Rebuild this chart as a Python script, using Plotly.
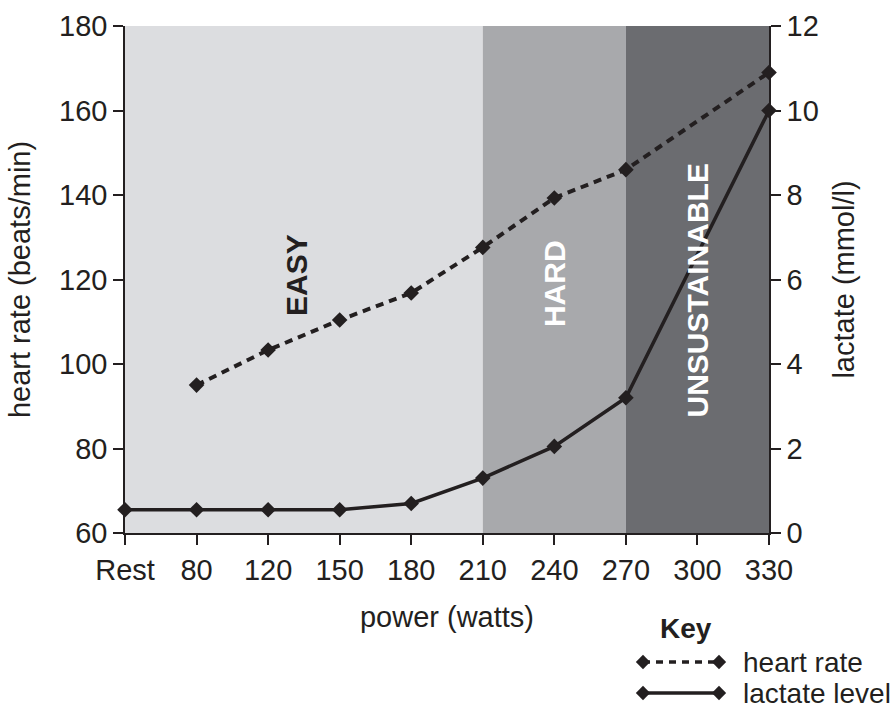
import plotly.graph_objects as go

# ---- data ----
categories = ["Rest", "80", "120", "150", "180", "210", "240", "270", "300", "330"]
heart_rate = [None, 95.0, 103.3, 110.4, 116.8, 127.6, 139.3, 146.0, None, 169.0]
lactate = [0.55, 0.55, 0.55, 0.55, 0.7, 1.3, 2.05, 3.2, None, 10.0]

zone_names = ["EASY", "HARD", "UNSUSTAINABLE"]
zone_starts = ["Rest", "210", "270"]
zone_ends = ["210", "270", "330"]
zone_colors = ["#dcdde0", "#a8a9ac", "#6b6c70"]
zone_text_colors = ["#231f20", "#ffffff", "#ffffff"]
zone_label_x = [2.4, 6.0, 8.0]      # label centre (category index)
zone_label_y = [121.0, 119.0, 117.5]  # label centre (heart-rate units)

key_labels = ["heart rate", "lactate level"]

hr_ticks = [60, 80, 100, 120, 140, 160, 180]
lac_ticks = [0, 2, 4, 6, 8, 10, 12]

INK = "#231f20"
FONT = "Liberation Sans, Arial, Helvetica, sans-serif"
FS = 29

OFF = 0  # body margin removed via post_script
W, H = 896, 709
ML = 125 - OFF
MT = 26 - OFF
MR = W - (769 - OFF)
MB = 2
plot_w = W - ML - MR
plot_h = H - MT - MB
main_dom_bottom = (H - MB - (533 - OFF)) / plot_h


def py(page_px):  # paper y from page pixel y (clamped, for domains)
    return min(1.0, max(0.0, (H - MB - (page_px - OFF)) / plot_h))


def pyu(page_px):  # unclamped, for annotations
    return (H - MB - (page_px - OFF)) / plot_h


def pxx(page_px):  # paper x from page pixel x
    return ((page_px - OFF) - ML) / plot_w


fig = go.Figure()

fig.add_trace(go.Scatter(
    x=categories, y=heart_rate, name=key_labels[0], mode="lines+markers",
    connectgaps=True, line=dict(color=INK, width=4, dash="8px,6px"),
    marker=dict(symbol="diamond", size=12, color=INK), cliponaxis=False,
    showlegend=False, yaxis="y"))

fig.add_trace(go.Scatter(
    x=categories, y=lactate, name=key_labels[1], mode="lines+markers",
    connectgaps=True, line=dict(color=INK, width=3.5),
    marker=dict(symbol="diamond", size=12, color=INK), cliponaxis=False,
    showlegend=False, yaxis="y2"))

# key samples on a small hidden axis
fig.add_trace(go.Scatter(
    x=[0, 1], y=[2, 2], mode="lines+markers", xaxis="x3", yaxis="y3",
    line=dict(color=INK, width=3.5, dash="7px,6px"),
    marker=dict(symbol="diamond", size=11, color=INK), cliponaxis=False,
    showlegend=False, hoverinfo="skip"))
fig.add_trace(go.Scatter(
    x=[0, 1], y=[1, 1], mode="lines+markers", xaxis="x3", yaxis="y3",
    line=dict(color=INK, width=3.5),
    marker=dict(symbol="diamond", size=11, color=INK), cliponaxis=False,
    showlegend=False, hoverinfo="skip"))

shapes = []
annotations = []
for name, s, e, c, tc, lx, ly in zip(zone_names, zone_starts, zone_ends,
                                      zone_colors, zone_text_colors,
                                      zone_label_x, zone_label_y):
    x0 = categories.index(s)
    x1 = categories.index(e)
    shapes.append(dict(type="rect", xref="x", yref="y domain", x0=x0, x1=x1,
                       y0=0, y1=1, fillcolor=c, line=dict(width=0),
                       layer="below"))
    annotations.append(dict(x=lx, y=ly, xref="x", yref="y",
                            text="<b>%s</b>" % name, showarrow=False,
                            textangle=-90, xanchor="center", yanchor="middle",
                            font=dict(family=FONT, size=30, color=tc)))

annotations.append(dict(x=pxx(686), y=pyu(628), xref="paper", yref="paper",
                        text="<b>Key</b>", showarrow=False,
                        xanchor="center", yanchor="middle",
                        font=dict(family=FONT, size=28, color=INK)))
annotations.append(dict(x=pxx(741), y=pyu(662), xref="paper", yref="paper",
                        text=key_labels[0], showarrow=False,
                        xanchor="left", yanchor="middle",
                        font=dict(family=FONT, size=28, color=INK)))
annotations.append(dict(x=pxx(741), y=pyu(693), xref="paper", yref="paper",
                        text=key_labels[1], showarrow=False,
                        xanchor="left", yanchor="middle",
                        font=dict(family=FONT, size=28, color=INK)))

axis_common = dict(showgrid=False, zeroline=False, showline=True,
                   linecolor=INK, linewidth=1.5, ticks="outside", ticklen=10,
                   tickwidth=1.5, tickcolor=INK,
                   tickfont=dict(family=FONT, size=FS, color=INK))

# key axis mapping (page px): y=2 -> 662, y=1 -> 693
key_top_px, key_bot_px = 645, 705
per = 693 - 662
y3_lo = 1 - (key_bot_px - 693) / per
y3_hi = 2 + (662 - key_top_px) / per

fig.update_layout(
    width=W, height=H,
    margin=dict(l=ML, r=MR, t=MT, b=MB, autoexpand=False),
    paper_bgcolor="white", plot_bgcolor="white",
    font=dict(family=FONT, size=FS, color=INK),
    xaxis=dict(type="category", range=[0, 9], domain=[0, 1], anchor="y",
               title=dict(text="power (watts)", standoff=22,
                          font=dict(family=FONT, size=FS, color=INK)),
               **axis_common),
    yaxis=dict(range=[60, 180], tickvals=hr_ticks, domain=[main_dom_bottom, 1],
               anchor="x",
               title=dict(text="heart rate (beats/min)", standoff=20,
                          font=dict(family=FONT, size=FS, color=INK)),
               **axis_common),
    yaxis2=dict(range=[0, 12], tickvals=lac_ticks, overlaying="y", side="right",
                anchor="x",
                title=dict(text="lactate (mmol/l)", standoff=16,
                           font=dict(family=FONT, size=FS, color=INK)),
                **axis_common),
    xaxis3=dict(domain=[pxx(643), pxx(719)], range=[0, 1], visible=False,
                anchor="y3", fixedrange=True),
    yaxis3=dict(domain=[py(key_bot_px), py(key_top_px)], range=[y3_lo, y3_hi],
                visible=False, anchor="x3", fixedrange=True),
    shapes=shapes,
    annotations=annotations,
    showlegend=False,
)

fig.write_html(
    "out.html",
    config={"displayModeBar": False},
    post_script="document.body.style.margin='0px';"
                "document.body.style.overflow='hidden';",
)
